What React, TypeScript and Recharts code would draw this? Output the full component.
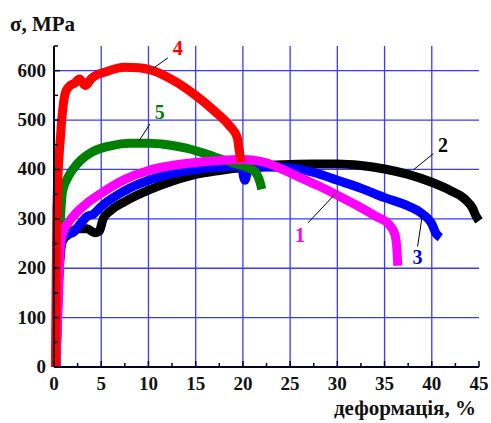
import React from "react";
import {
  LineChart,
  Line,
  XAxis,
  YAxis,
  CartesianGrid,
  ReferenceLine,
  ReferenceDot,
} from "recharts";

// strain (%) / stress (MPa) pairs
const curve1: [number, number][] = [
  [0.2, 0], [0.45, 130], [0.7, 250], [1.0, 275], [1.5, 292], [2.5, 315],
  [3.5, 332], [5, 352], [7.5, 380], [10, 398], [12.5, 408], [15, 414],
  [17.5, 418], [20, 420], [22, 416], [24, 402], [26, 384], [28, 367],
  [30, 348], [32, 328], [34, 306], [35.5, 288], [36.1, 268], [36.3, 240],
  [36.4, 205],
];
const curve2: [number, number][] = [
  [0.2, 0], [0.5, 180], [0.9, 255], [1.5, 268], [2.5, 280], [3.5, 280],
  [4.3, 272], [4.8, 275], [5.2, 300], [6, 317], [7.5, 335], [10, 358],
  [12.5, 376], [15, 390], [17.5, 398], [20, 404], [22.5, 408], [25, 410],
  [27.5, 411], [30, 411], [32.5, 408], [35, 401], [37.5, 390], [40, 374],
  [42, 357], [43.5, 340], [44.3, 322], [44.7, 305], [45, 296],
];
const curve3: [number, number][] = [
  [0.2, 0], [0.5, 180], [0.9, 262], [1.3, 270], [2, 272], [2.8, 290],
  [3.5, 305], [4.2, 310], [5, 325], [7.5, 357], [10, 378], [12.5, 392],
  [15, 400], [17.5, 405], [19.8, 407], [20.2, 378], [20.6, 400], [22.5, 405],
  [25, 403], [27.5, 394], [30, 378], [32.5, 362], [35, 343], [37.5, 326],
  [39, 310], [40, 290], [40.4, 272], [40.9, 262],
];
const curve4: [number, number][] = [
  [0.15, 0], [0.3, 320], [0.7, 470], [1.2, 555], [1.6, 568], [2.2, 575],
  [2.7, 583], [3.3, 570], [4, 585], [5.5, 598], [7.5, 607], [9, 606],
  [10.5, 600], [12.5, 582], [15, 550], [17, 518], [18.6, 488], [19.4, 465],
  [19.6, 440], [19.8, 415],
];
const curve5: [number, number][] = [
  [0.2, 0], [0.45, 200], [0.65, 290], [0.9, 355], [1.5, 385], [2.5, 412],
  [4, 435], [6, 448], [8, 453], [10, 453], [12, 450], [14, 443], [16, 432],
  [18, 419], [19.5, 410], [20.5, 404], [21.3, 395], [21.8, 375], [22, 360],
];

const xTicks = [0, 2.5, 5, 7.5, 10, 12.5, 15, 17.5, 20, 22.5, 25, 27.5, 30, 32.5, 35, 37.5, 40, 42.5, 45];
const yTicks = [0, 50, 100, 150, 200, 250, 300, 350, 400, 450, 500, 550, 600, 650];
const xGrid = [5, 10, 15, 20, 25, 30, 35, 40];
const yGrid = [100, 200, 300, 400, 500, 600];

// curve number labels with leader lines
const callouts = [
  { name: "4", color: "#ff0000", from: [10.15, 600], to: [12.06, 626], at: [13.1, 646] },
  { name: "5", color: "#008000", from: [8.87, 454], to: [10.15, 492], at: [11.2, 517] },
  { name: "2", color: "#000000", from: [38.04, 399], to: [40.16, 432], at: [41.2, 450] },
  { name: "1", color: "#ff00ff", from: [26.9, 292], to: [30.0, 355], at: [26.05, 268] },
  { name: "3", color: "#0000ff", from: [38.5, 244], to: [39.0, 308], at: [38.5, 222] },
];

const toPoints = (c: [number, number][]) => c.map(([x, y]) => ({ x, y }));

const FONT = "'Liberation Serif', 'Times New Roman', serif";
const AXIS = "#000028";
const GRID = "#3a3aff";

const XTick = (props: any) => {
  const { x, y, payload } = props;
  const major = payload.value % 5 === 0;
  return (
    <g>
      <line x1={x} x2={x} y1={y} y2={y - (major ? 6 : 4)} stroke={AXIS} strokeWidth={1.5} />
      {major && (
        <text x={x} y={y + 23} textAnchor="middle" fontFamily={FONT} fontWeight="bold" fontSize={19} fill="#111">
          {payload.value}
        </text>
      )}
    </g>
  );
};

const YTick = (props: any) => {
  const { x, y, payload } = props;
  const major = payload.value % 100 === 0;
  return (
    <g>
      <line x1={x} x2={x + (major ? 6 : 4)} y1={y} y2={y} stroke={AXIS} strokeWidth={1.5} />
      {major && (
        <text x={x - 8} y={y + 6} textAnchor="end" fontFamily={FONT} fontWeight="bold" fontSize={19} fill="#111">
          {payload.value}
        </text>
      )}
    </g>
  );
};

const series = [
  { key: "2", data: curve2, color: "#000000" },
  { key: "3", data: curve3, color: "#0000ff" },
  { key: "5", data: curve5, color: "#008000" },
  { key: "1", data: curve1, color: "#ff00ff" },
  { key: "4", data: curve4, color: "#ff0000" },
];

export default function App() {
  return (
    <div style={{ position: "absolute", left: 0, top: 0, width: 491, height: 423, background: "#fff" }}>
      <LineChart width={491} height={423} margin={{ top: 46, right: 12, bottom: 0, left: 0 }}>
        <CartesianGrid
          horizontalValues={yGrid}
          verticalValues={xGrid}
          stroke={GRID}
          strokeWidth={1.3}
        />
        <XAxis
          type="number"
          dataKey="x"
          domain={[0, 45]}
          ticks={xTicks}
          interval={0}
          height={56}
          tickLine={false}
          tickSize={0}
          tickMargin={0}
          tick={<XTick />}
          axisLine={{ stroke: AXIS, strokeWidth: 2 }}
          allowDuplicatedCategory={false}
        />
        <YAxis
          type="number"
          dataKey="y"
          domain={[0, 650]}
          ticks={yTicks}
          interval={0}
          width={54}
          tickLine={false}
          tickSize={0}
          tickMargin={0}
          tick={<YTick />}
          axisLine={{ stroke: AXIS, strokeWidth: 2 }}
        />
        {series.map((s) => (
          <Line
            key={s.key}
            data={toPoints(s.data)}
            dataKey="y"
            type="monotone"
            stroke={s.color}
            strokeWidth={9}
            dot={false}
            isAnimationActive={false}
          />
        ))}
        {callouts.map((c) => (
          <ReferenceLine
            key={`l${c.name}`}
            segment={[{ x: c.from[0], y: c.from[1] }, { x: c.to[0], y: c.to[1] }]}
            stroke="#000"
            strokeWidth={1}
            ifOverflow="visible"
          />
        ))}
        {callouts.map((c) => (
          <ReferenceDot
            key={`d${c.name}`}
            x={c.at[0]}
            y={c.at[1]}
            r={0}
            fill="none"
            stroke="none"
            ifOverflow="visible"
            label={{ value: c.name, position: "center", fill: c.color, fontSize: 20, fontWeight: "bold", fontFamily: FONT }}
          />
        ))}
      </LineChart>
      <div style={{ position: "absolute", left: 10, top: 12, fontFamily: FONT, fontWeight: "bold", fontSize: 21, color: "#111" }}>
        σ, MPa
      </div>
      <div style={{ position: "absolute", right: 15, top: 396, fontFamily: FONT, fontWeight: "bold", fontSize: 21, color: "#111" }}>
        деформація, %
      </div>
    </div>
  );
}
